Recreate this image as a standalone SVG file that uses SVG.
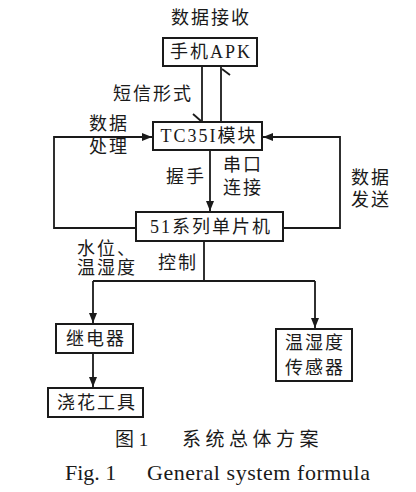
<svg xmlns="http://www.w3.org/2000/svg" width="416" height="492" viewBox="0 0 416 492">
<defs>
<marker id="ah" viewBox="0 0 10 10" refX="10" refY="5" markerWidth="10" markerHeight="10" markerUnits="userSpaceOnUse" orient="auto">
<path d="M0,1 L10,5 L0,9 Z" fill="#1a1a1a"/>
</marker>
<style>
.box{fill:#fff;stroke:#1a1a1a;stroke-width:2}
.ln{fill:none;stroke:#1a1a1a;stroke-width:1.8}
.t{font-family:"Liberation Serif","Noto Sans CJK SC",serif;font-size:18px;fill:#1a1a1a;letter-spacing:2px}
.c{text-anchor:middle}
</style>
</defs>
<rect width="416" height="492" fill="#fff"/>
<g id="connectors">
<line class="ln" x1="202" y1="66" x2="202" y2="122"/>
<line class="ln" x1="193" y1="114" x2="201" y2="121"/>
<line class="ln" x1="221" y1="122" x2="221" y2="66"/>
<line class="ln" x1="222" y1="69" x2="230" y2="75"/>
<polyline class="ln" points="136,228 54,228 54,137 152,137" marker-end="url(#ah)"/>
<polyline class="ln" points="283,228 340,228 340,137 263,137" marker-end="url(#ah)"/>
<line class="ln" x1="210" y1="150" x2="210" y2="211" marker-end="url(#ah)"/>
<line class="ln" x1="204" y1="241" x2="204" y2="281"/>
<line class="ln" x1="93" y1="281" x2="315" y2="281"/>
<line class="ln" x1="93" y1="281" x2="93" y2="323" marker-end="url(#ah)"/>
<line class="ln" x1="315" y1="281" x2="315" y2="328" marker-end="url(#ah)"/>
<line class="ln" x1="93" y1="353" x2="93" y2="387" marker-end="url(#ah)"/>
</g>
<g id="labels">
<text class="t c" x="211" y="24">数据接收</text>
<text class="t c" x="153" y="100">短信形式</text>
<text class="t c" x="109" y="130">数据</text>
<text class="t c" x="109" y="153">处理</text>
<text class="t c" x="186" y="183">握手</text>
<text class="t c" x="243" y="171">串口</text>
<text class="t c" x="243" y="194">连接</text>
<text class="t c" x="371" y="184">数据</text>
<text class="t c" x="371" y="206">发送</text>
<text class="t" x="77" y="255">水位、</text>
<text class="t" x="77" y="274">温湿度</text>
<text class="t c" x="178" y="269">控制</text>
</g>
<g id="n-phone"><rect class="box" x="163" y="38" width="94" height="28"/><text class="t c" x="211" y="58">手机APK</text></g>
<g id="n-tc35i"><rect class="box" x="153" y="122" width="109" height="28"/><text class="t c" x="209" y="142">TC35I模块</text></g>
<g id="n-mcu"><rect class="box" x="136" y="212" width="147" height="29"/><text class="t c" x="211" y="233">51系列单片机</text></g>
<g id="n-relay"><rect class="box" x="56" y="324" width="77" height="29"/><text class="t c" x="96" y="345">继电器</text></g>
<g id="n-tool"><rect class="box" x="48" y="388" width="95" height="29"/><text class="t c" x="97" y="409">浇花工具</text></g>
<g id="n-sensor"><rect class="box" x="276" y="329" width="76" height="52"/><text class="t c" x="315" y="349">温湿度</text><text class="t c" x="315" y="374">传感器</text></g>
<g id="caption">
<text class="t" x="115" y="446" style="font-size:19px;letter-spacing:0">图 1</text>
<text class="t" x="182" y="446" style="font-size:19px;letter-spacing:4.5px">系统总体方案</text>
<text class="t" x="65" y="480" style="font-size:22px;letter-spacing:0">Fig. 1</text>
<text class="t" x="147" y="480" style="font-size:22px;letter-spacing:0" textLength="223">General system formula</text>
</g>
</svg>
